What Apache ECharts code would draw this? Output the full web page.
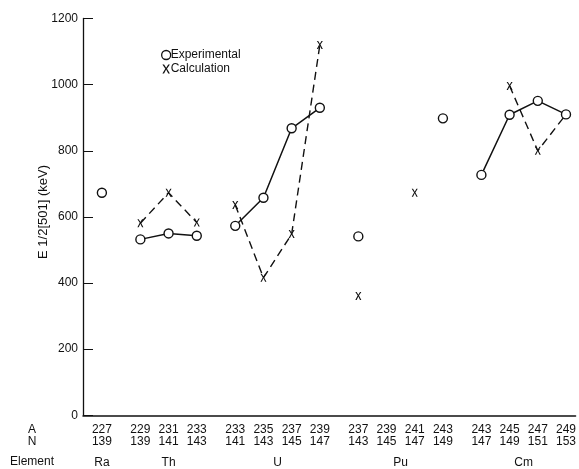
<!DOCTYPE html>
<html>
<head>
<meta charset="utf-8">
<script src="https://cdn.jsdelivr.net/npm/echarts@6/dist/echarts.min.js"></script>
<style>
html,body{margin:0;padding:0;background:#fff;}
#chart{width:579px;height:469px;}
</style>
</head>
<body>
<div id="chart"></div>
<script>
// ---- data ----
const groupNames = ['Ra', 'Th', 'U', 'Pu', 'Cm'];
const massNumbers = [[227], [229, 231, 233], [233, 235, 237, 239], [237, 239, 241, 243], [243, 245, 247, 249]];
const neutronNumbers = [[139], [139, 141, 143], [141, 143, 145, 147], [143, 145, 147, 149], [147, 149, 151, 153]];
const experimentalKeV = [[673], [532, 550, 543], [573, 658, 868, 930], [541, null, null, 898], [727, 909, 951, 910]];
const calculationKeV = [[null], [581, 673, 583], [636, 416, 548, 1120], [361, null, 673, null], [null, 996, 800, 910]];
const yTickValues = [0, 200, 400, 600, 800, 1000, 1200];
const yAxisTitle = 'E 1/2[501] (keV)';
const rowHeaders = ['A', 'N', 'Element'];

// ---- layout helpers ----
const GROUP_GAP = 0.365;
const FONT = '"Liberation Sans", Arial, Helvetica, sans-serif';
const INK = '#111';
const xPath = 'path://M0,0 L2.2,0 L5,4.3 L7.8,0 L10,0 L6.1,5.5 L10,12 L7.8,12 L5,6.8 L2.2,12 L0,12 L3.9,5.5 Z';

const positions = [];
const labelByPos = {};
let idx = 0;
groupNames.forEach((g, gi) => {
  const arr = [];
  massNumbers[gi].forEach((a, j) => {
    const p = +(idx + gi * GROUP_GAP).toFixed(3);
    arr.push(p);
    labelByPos[p.toFixed(3)] = a + '\n' + neutronNumbers[gi][j];
    idx++;
  });
  positions.push(arr);
});
const allPos = positions.flat();
const groupCenters = positions.map(a => +((a[0] + a[a.length - 1]) / 2).toFixed(3));
const elemByPos = {};
groupCenters.forEach((c, i) => { elemByPos[c.toFixed(3)] = groupNames[i]; });
const xMin = allPos[0] - 0.67;
const xMax = allPos[allPos.length - 1] + 0.34;

const series = [];
groupNames.forEach((g, gi) => {
  series.push({
    type: 'line', name: 'Experimental',
    data: positions[gi].map((x, j) => [x, experimentalKeV[gi][j] == null ? '-' : experimentalKeV[gi][j]]),
    connectNulls: false,
    symbol: 'circle', symbolSize: 9, showAllSymbol: true,
    itemStyle: { color: '#fff', borderColor: INK, borderWidth: 1.4 },
    lineStyle: { color: INK, width: 1.5 },
    z: 3, silent: true
  });
  series.push({
    type: 'line', name: 'Calculation',
    data: positions[gi].map((x, j) => [x, calculationKeV[gi][j] == null ? '-' : calculationKeV[gi][j]]),
    connectNulls: false,
    symbol: xPath, symbolSize: [6, 8], showAllSymbol: true,
    itemStyle: { color: INK },
    lineStyle: { color: INK, width: 1.4, type: [8, 5] },
    z: 2, silent: true
  });
});

const chart = echarts.init(document.getElementById('chart'));
chart.setOption({
  animation: false,
  backgroundColor: '#fff',
  textStyle: { fontFamily: FONT },
  grid: { left: 83, right: 0, top: 18.5, bottom: 53.7, containLabel: false },
  legend: {
    orient: 'vertical', left: 156, top: 44, itemGap: 2,
    itemWidth: 9, itemHeight: 9,
    textStyle: { fontFamily: FONT, fontSize: 12, color: INK, padding: [0, 0, 0, -5] },
    data: [
      { name: 'Experimental', icon: 'circle', itemStyle: { color: '#fff', borderColor: INK, borderWidth: 1.3 } },
      { name: 'Calculation', icon: xPath, itemStyle: { color: INK, borderWidth: 0 } }
    ]
  },
  xAxis: [
    {
      type: 'value', min: xMin, max: xMax, position: 'bottom',
      axisLine: { show: true, onZero: false, lineStyle: { color: INK, width: 1.5 } },
      axisTick: { show: false },
      splitLine: { show: false },
      axisLabel: {
        customValues: allPos, margin: 8, fontSize: 12, lineHeight: 12.5, color: INK, fontFamily: FONT,
        showMinLabel: true, showMaxLabel: true,
        formatter: v => labelByPos[(+v).toFixed(3)] || ''
      }
    },
    {
      type: 'value', min: xMin, max: xMax, position: 'bottom',
      axisLine: { show: false, onZero: false }, axisTick: { show: false }, splitLine: { show: false },
      axisLabel: {
        customValues: groupCenters, margin: 41, fontSize: 12, color: INK, fontFamily: FONT,
        showMinLabel: true, showMaxLabel: true,
        formatter: v => elemByPos[(+v).toFixed(3)] || ''
      }
    }
  ],
  yAxis: {
    type: 'value', min: 0, max: 1200, interval: 200,
    axisLine: { show: true, onZero: false, lineStyle: { color: INK, width: 1.3 } },
    axisTick: { show: true, inside: true, length: 10, lineStyle: { color: INK, width: 1 } },
    splitLine: { show: false },
    axisLabel: { fontSize: 12, color: INK, margin: 5, fontFamily: FONT,
      formatter: v => yTickValues.includes(v) ? String(v) : '' }
  },
  graphic: [
    { type: 'text', x: 43, y: 212, rotation: Math.PI / 2,
      style: { text: yAxisTitle, font: '13px ' + FONT, fill: INK, align: 'center', verticalAlign: 'middle' } },
    { type: 'text', x: 32, y: 430, style: { text: rowHeaders[0], font: '12px ' + FONT, fill: INK, align: 'center', verticalAlign: 'middle' } },
    { type: 'text', x: 32, y: 442, style: { text: rowHeaders[1], font: '12px ' + FONT, fill: INK, align: 'center', verticalAlign: 'middle' } },
    { type: 'text', x: 32, y: 461.5, style: { text: rowHeaders[2], font: '12px ' + FONT, fill: INK, align: 'center', verticalAlign: 'middle' } }
  ],
  series: series
});
</script>
</body>
</html>
